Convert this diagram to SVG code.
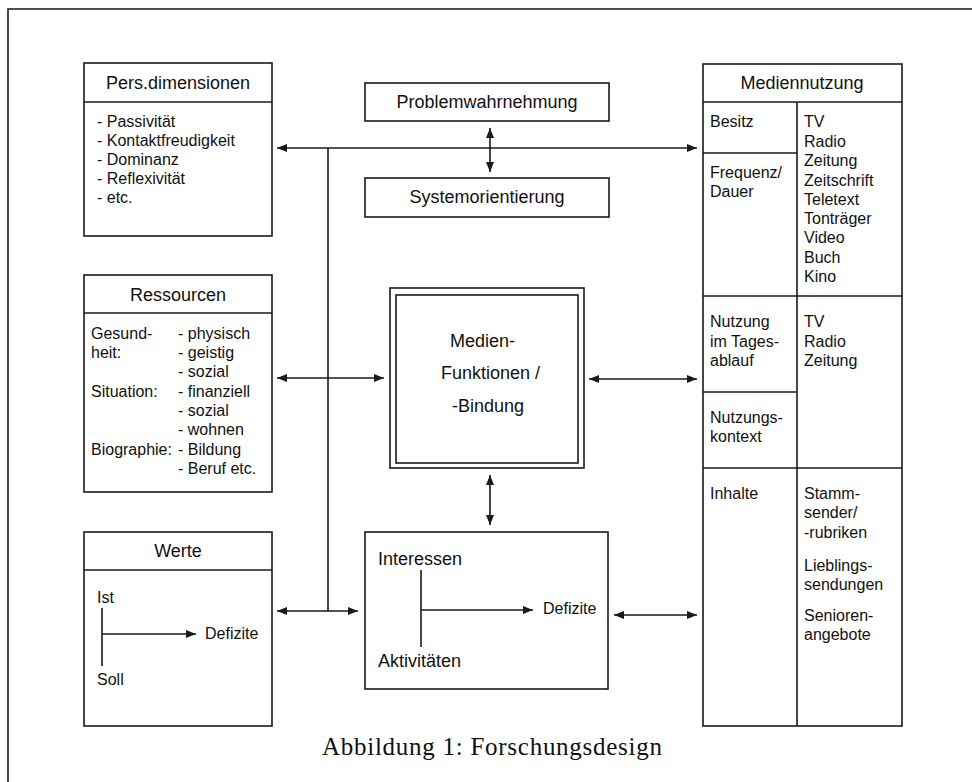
<svg xmlns="http://www.w3.org/2000/svg" width="972" height="782" viewBox="0 0 972 782">
<defs>
<marker id="ah" viewBox="0 0 10 8" refX="10" refY="4" markerWidth="10" markerHeight="8" markerUnits="userSpaceOnUse" orient="auto-start-reverse">
<path d="M0,0 L10,4 L0,8 Z" fill="#1a1a1a"/>
</marker>
<style>
.box{fill:#fff;stroke:#1a1a1a;stroke-width:1.6}
.ln{fill:none;stroke:#1a1a1a;stroke-width:1.6}
.t{font-family:"Liberation Sans",Arial,sans-serif;font-size:16px;fill:#111}
.h{font-family:"Liberation Sans",Arial,sans-serif;font-size:18px;fill:#111;text-anchor:middle}
.m{font-family:"Liberation Sans",Arial,sans-serif;font-size:18px;fill:#111}
.c{font-family:"Liberation Serif","Times New Roman",serif;font-size:25px;fill:#111}
</style>
</defs>
<rect width="972" height="782" fill="#fff"/>
<path class="ln" d="M8,782 V9 H972"/>

<g id="persdimensionen">
<rect class="box" x="84" y="63" width="188" height="173"/>
<line class="ln" x1="84" y1="102" x2="272" y2="102"/>
<text class="h" x="178" y="89">Pers.dimensionen</text>
<text class="t" x="97" y="127">- Passivität</text>
<text class="t" x="97" y="146">- Kontaktfreudigkeit</text>
<text class="t" x="97" y="165">- Dominanz</text>
<text class="t" x="97" y="184">- Reflexivität</text>
<text class="t" x="97" y="203">- etc.</text>
</g>

<g id="ressourcen">
<rect class="box" x="84" y="275" width="188" height="217"/>
<line class="ln" x1="84" y1="313" x2="272" y2="313"/>
<text class="h" x="178" y="301">Ressourcen</text>
<text class="t" x="91" y="339">Gesund-</text>
<text class="t" x="91" y="358">heit:</text>
<text class="t" x="91" y="397">Situation:</text>
<text class="t" x="91" y="455">Biographie:</text>
<text class="t" x="178" y="339">-  physisch</text>
<text class="t" x="178" y="358">-  geistig</text>
<text class="t" x="178" y="377">- sozial</text>
<text class="t" x="178" y="397">- finanziell</text>
<text class="t" x="178" y="416">- sozial</text>
<text class="t" x="178" y="435">- wohnen</text>
<text class="t" x="178" y="455">- Bildung</text>
<text class="t" x="178" y="474">- Beruf etc.</text>
</g>

<g id="werte">
<rect class="box" x="84" y="532" width="188" height="194"/>
<line class="ln" x1="84" y1="570" x2="272" y2="570"/>
<text class="h" x="178" y="557">Werte</text>
<text class="t" x="97" y="603">Ist</text>
<line class="ln" x1="102" y1="608" x2="102" y2="666"/>
<line class="ln" x1="102" y1="634" x2="196" y2="634" marker-end="url(#ah)"/>
<text class="t" x="205" y="639">Defizite</text>
<text class="t" x="97" y="685">Soll</text>
</g>

<g id="problemwahrnehmung">
<rect class="box" x="365" y="83" width="244" height="38"/>
<text class="h" x="487" y="108">Problemwahrnehmung</text>
</g>

<g id="systemorientierung">
<rect class="box" x="365" y="178" width="244" height="39"/>
<text class="h" x="487" y="203">Systemorientierung</text>
</g>

<g id="medienfunktionen">
<rect class="box" x="390" y="288" width="194" height="180"/>
<rect class="box" x="396" y="295" width="182" height="168"/>
<text class="m" x="450" y="347">Medien-</text>
<text class="m" x="441" y="379">Funktionen /</text>
<text class="m" x="452" y="412">-Bindung</text>
</g>

<g id="interessen">
<rect class="box" x="365" y="532" width="243" height="157"/>
<text class="m" x="378" y="565">Interessen</text>
<line class="ln" x1="421" y1="570" x2="421" y2="647"/>
<line class="ln" x1="421" y1="610" x2="533" y2="610" marker-end="url(#ah)"/>
<text class="t" x="543" y="614">Defizite</text>
<text class="m" x="378" y="667">Aktivitäten</text>
</g>

<g id="mediennutzung">
<rect class="box" x="703" y="64" width="199" height="662"/>
<line class="ln" x1="703" y1="102" x2="902" y2="102"/>
<line class="ln" x1="797" y1="102" x2="797" y2="726"/>
<line class="ln" x1="703" y1="153" x2="797" y2="153"/>
<line class="ln" x1="703" y1="296" x2="902" y2="296"/>
<line class="ln" x1="703" y1="392" x2="797" y2="392"/>
<line class="ln" x1="703" y1="468" x2="902" y2="468"/>
<text class="h" x="802" y="89">Mediennutzung</text>
<text class="t" x="710" y="127">Besitz</text>
<text class="t" x="710" y="178">Frequenz/</text>
<text class="t" x="710" y="197">Dauer</text>
<text class="t" x="804" y="127">TV</text>
<text class="t" x="804" y="147">Radio</text>
<text class="t" x="804" y="166">Zeitung</text>
<text class="t" x="804" y="186">Zeitschrift</text>
<text class="t" x="804" y="205">Teletext</text>
<text class="t" x="804" y="224">Tonträger</text>
<text class="t" x="804" y="243">Video</text>
<text class="t" x="804" y="263">Buch</text>
<text class="t" x="804" y="282">Kino</text>
<text class="t" x="710" y="327">Nutzung</text>
<text class="t" x="710" y="347">im Tages-</text>
<text class="t" x="710" y="366">ablauf</text>
<text class="t" x="804" y="327">TV</text>
<text class="t" x="804" y="347">Radio</text>
<text class="t" x="804" y="366">Zeitung</text>
<text class="t" x="710" y="423">Nutzungs-</text>
<text class="t" x="710" y="442">kontext</text>
<text class="t" x="710" y="499">Inhalte</text>
<text class="t" x="804" y="499">Stamm-</text>
<text class="t" x="804" y="518">sender/</text>
<text class="t" x="804" y="538">-rubriken</text>
<text class="t" x="804" y="571">Lieblings-</text>
<text class="t" x="804" y="590">sendungen</text>
<text class="t" x="804" y="621">Senioren-</text>
<text class="t" x="804" y="640">angebote</text>
</g>

<g id="connectors">
<line class="ln" x1="277" y1="148" x2="697" y2="148" marker-start="url(#ah)" marker-end="url(#ah)"/>
<line class="ln" x1="490" y1="128" x2="490" y2="172" marker-start="url(#ah)" marker-end="url(#ah)"/>
<line class="ln" x1="328" y1="148" x2="328" y2="611"/>
<line class="ln" x1="277" y1="378" x2="384" y2="378" marker-start="url(#ah)" marker-end="url(#ah)"/>
<line class="ln" x1="589" y1="379" x2="697" y2="379" marker-start="url(#ah)" marker-end="url(#ah)"/>
<line class="ln" x1="490" y1="475" x2="490" y2="525" marker-start="url(#ah)" marker-end="url(#ah)"/>
<line class="ln" x1="277" y1="611" x2="358" y2="611" marker-start="url(#ah)" marker-end="url(#ah)"/>
<line class="ln" x1="614" y1="615" x2="697" y2="615" marker-start="url(#ah)" marker-end="url(#ah)"/>
</g>

<text class="c" x="322" y="755" textLength="340" lengthAdjust="spacing">Abbildung 1:  Forschungsdesign</text>
</svg>
